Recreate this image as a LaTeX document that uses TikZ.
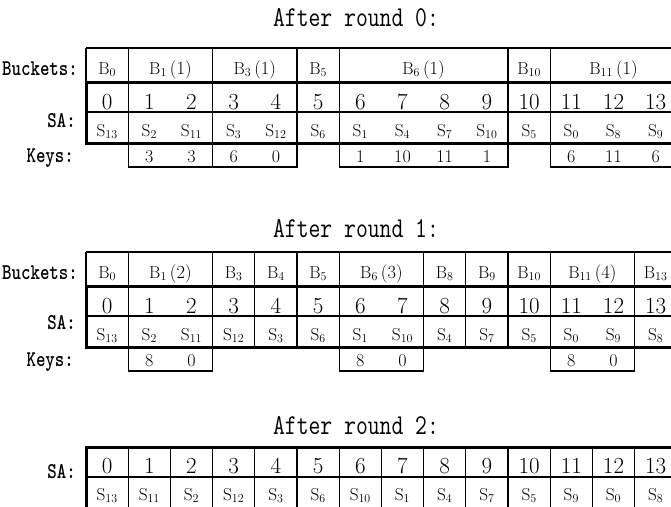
\documentclass[tikz,border=0pt]{standalone}
\newcommand\Sx[1]{$\mathrm{S}_{#1}$}
\newcommand\Bx[1]{$\mathrm{B}_{#1}$}
\newcommand\Tall[1]{\scalebox{1}[1.25]{#1}}
\tikzset{
  thinl/.style={line width=1.3pt},
  thickl/.style={line width=3pt},
  numtxt/.style={font=\fontsize{23}{23}\selectfont, inner sep=0pt, anchor=base},
  buck/.style={font=\fontsize{18.5}{18.5}\selectfont, inner sep=0pt, anchor=base},
  stxt/.style={font=\fontsize{16.5}{16.5}\selectfont, inner sep=0pt, anchor=base},
  keytxt/.style={font=\fontsize{18}{18}\selectfont, inner sep=0pt, anchor=base},
  titletxt/.style={font=\ttfamily\fontsize{23}{23}\selectfont, inner sep=0pt, anchor=base},
  rowlabel/.style={font=\ttfamily\bfseries\fontsize{18}{18}\selectfont, inner sep=0pt, anchor=base east},
}
\begin{document}
\begin{tikzpicture}[x=1pt,y=-1pt]
\useasboundingbox (0,0) rectangle (671,506);
\clip (0,0) rectangle (671,506);
\fill[white] (0,0) rectangle (671,506);

% ================= Round 0 =================
\node[titletxt] (t0) at (356,26) {\Tall{After round 0:}};
\node[rowlabel] (l0b) at (78,75) {\Tall{Buckets:}};
\node[rowlabel] (l0s) at (76,127) {\Tall{SA:}};
\node[rowlabel] (l0k) at (74,162) {\Tall{Keys:}};
\draw[thinl] (86,48) -- (690,48);
\draw[thinl] (86,48) -- (86,82);
\draw[thinl] (86,112) -- (690,112);
\foreach \c in {1,3,5,6,10,11}
  \draw[thinl] ({86+42.2*\c},48) -- ({86+42.2*\c},143);
\draw[thickl] (86,82) -- (690,82);
\draw[thickl] (86,143) -- (690,143);
\draw[thickl] (86,80.5) -- (86,144.5);
\foreach \a/\b in {1/3,3/5,6/10,11/14}
  \draw[thinl] ({86+42.2*\a},143) rectangle ({86+42.2*\b},167);
\foreach \a/\b/\lab [count=\n] in {0/1/{\Bx{0}},1/3/{\Bx{1}\,(1)},3/5/{\Bx{3}\,(1)},5/6/{\Bx{5}},6/10/{\Bx{6}\,(1)},10/11/{\Bx{10}},11/14/{\Bx{11}\,(1)}}
  \node[buck] (r0b\n) at ({86+42.2*(\a+\b)/2},74) {\lab};
\foreach \i in {0,...,13}
  \node[numtxt] (r0n\i) at ({86+42.2*(\i+0.5)},109) {\i};
\foreach \s [count=\i from 0] in {13,2,11,3,12,6,1,4,7,10,5,0,8,9}
  \node[stxt] (r0s\i) at ({86+42.2*(\i+0.5)},136) {\Sx{\s}};
\foreach \i/\k in {1/3,2/3,3/6,4/0,6/1,7/10,8/11,9/1,11/6,12/11,13/6}
  \node[keytxt] (r0k\i) at ({86+42.2*(\i+0.5)},162) {\k};

% ================= Round 1 =================
\node[titletxt] (t1) at (356,237) {\Tall{After round 1:}};
\node[rowlabel] (l1b) at (78,279) {\Tall{Buckets:}};
\node[rowlabel] (l1s) at (76,329) {\Tall{SA:}};
\node[rowlabel] (l1k) at (74,366) {\Tall{Keys:}};
\draw[thinl] (86,252) -- (690,252);
\draw[thinl] (86,252) -- (86,286);
\draw[thinl] (86,316) -- (690,316);
\foreach \c in {1,3,4,5,6,8,9,10,11,13}
  \draw[thinl] ({86+42.2*\c},252) -- ({86+42.2*\c},347);
\draw[thickl] (86,286) -- (690,286);
\draw[thickl] (86,347) -- (690,347);
\draw[thickl] (86,284.5) -- (86,348.5);
\foreach \a/\b in {1/3,6/8,11/13}
  \draw[thinl] ({86+42.2*\a},347) rectangle ({86+42.2*\b},371);
\foreach \a/\b/\lab [count=\n] in {0/1/{\Bx{0}},1/3/{\Bx{1}\,(2)},3/4/{\Bx{3}},4/5/{\Bx{4}},5/6/{\Bx{5}},6/8/{\Bx{6}\,(3)},8/9/{\Bx{8}},9/10/{\Bx{9}},10/11/{\Bx{10}},11/13/{\Bx{11}\,(4)},13/14/{\Bx{13}}}
  \node[buck] (r1b\n) at ({86+42.2*(\a+\b)/2},278) {\lab};
\foreach \i in {0,...,13}
  \node[numtxt] (r1n\i) at ({86+42.2*(\i+0.5)},313) {\i};
\foreach \s [count=\i from 0] in {13,2,11,12,3,6,1,10,4,7,5,0,9,8}
  \node[stxt] (r1s\i) at ({86+42.2*(\i+0.5)},340) {\Sx{\s}};
\foreach \i/\k in {1/8,2/0,6/8,7/0,11/8,12/0}
  \node[keytxt] (r1k\i) at ({86+42.2*(\i+0.5)},366) {\k};

% ================= Round 2 =================
\node[titletxt] (t2) at (356,434) {\Tall{After round 2:}};
\node[rowlabel] (l2s) at (76,478) {\Tall{SA:}};
\draw[thinl] (86,477) -- (690,477);
\foreach \c in {1,...,13}
  \draw[thinl] ({86+42.2*\c},447) -- ({86+42.2*\c},510);
\draw[thickl] (86,447) -- (690,447);
\draw[thickl] (86,445.5) -- (86,510);
\foreach \i in {0,...,13}
  \node[numtxt] (r2n\i) at ({86+42.2*(\i+0.5)},473) {\i};
\foreach \s [count=\i from 0] in {13,11,2,12,3,6,10,1,4,7,5,9,0,8}
  \node[stxt] (r2s\i) at ({86+42.2*(\i+0.5)},500) {\Sx{\s}};
\end{tikzpicture}
\end{document}
